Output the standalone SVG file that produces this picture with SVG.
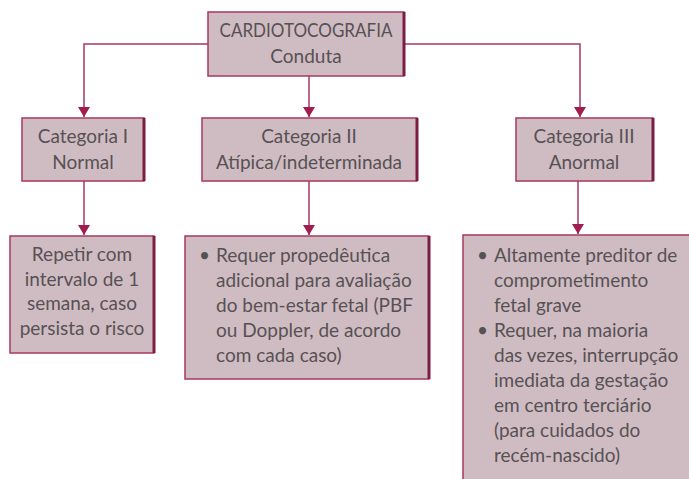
<svg xmlns="http://www.w3.org/2000/svg" width="689" height="479" viewBox="0 0 689 479">
<style>
.box{fill:#cfbcc2;stroke:#a8385f;stroke-width:1.5}
.sh{stroke:#7d1c42;stroke-width:3;fill:none}
.t{font-family:Lato,"Open Sans",sans-serif;font-size:19px;fill:#575154}
.c{text-anchor:middle}
.ln{stroke:#a8385f;stroke-width:1.5;fill:none}
</style>
<rect width="689" height="479" fill="#fff"/>
<g id="connectors">
<path class="ln" d="M208,44 H84 V117"/>
<path class="ln" d="M405,44 H580 V117"/>
<path class="ln" d="M309,76 V117"/>
<path class="ln" d="M84,181 V235"/>
<path class="ln" d="M309,181 V235"/>
<path class="ln" d="M578,181 V234"/>
<path d="M78,107 H90 L84,117 Z M574,107 H586 L580,117 Z M303,107 H315 L309,117 Z M78,225 H90 L84,235 Z M303,225 H315 L309,235 Z M572,224 H584 L578,234 Z" fill="#a11d4f"/>
</g>
<g id="root">
<rect class="box" x="208" y="12" width="196" height="64"/>
<line class="sh" x1="404" y1="12" x2="404" y2="76"/>
<text class="t c" x="306" y="37" textLength="173" lengthAdjust="spacingAndGlyphs">CARDIOTOCOGRAFIA</text>
<text class="t c" x="306" y="63">Conduta</text>
</g>
<g id="cat1">
<rect class="box" x="22" y="118" width="122" height="63"/>
<line class="sh" x1="144" y1="118" x2="144" y2="181"/>
<text class="t c" x="83" y="143">Categoria I</text>
<text class="t c" x="83" y="169">Normal</text>
</g>
<g id="cat2">
<rect class="box" x="202" y="118" width="215" height="63"/>
<line class="sh" x1="417" y1="118" x2="417" y2="181"/>
<text class="t c" x="309" y="143">Categoria II</text>
<text class="t c" x="309" y="169">Atípica/indeterminada</text>
</g>
<g id="cat3">
<rect class="box" x="516" y="118" width="137" height="63"/>
<line class="sh" x1="653" y1="118" x2="653" y2="181"/>
<text class="t c" x="584" y="143">Categoria III</text>
<text class="t c" x="584" y="169">Anormal</text>
</g>
<g id="box1">
<rect class="box" x="10" y="236" width="144" height="117"/>
<line class="sh" x1="154" y1="236" x2="154" y2="353"/>
<text class="t c" x="82" y="261">Repetir com</text>
<text class="t c" x="82" y="285.5">intervalo de 1</text>
<text class="t c" x="82" y="310">semana, caso</text>
<text class="t c" x="82" y="334.5">persista o risco</text>
</g>
<g id="box2">
<rect class="box" x="185" y="236" width="244" height="143"/>
<line class="sh" x1="429" y1="236" x2="429" y2="379"/>
<text class="t" x="199" y="262">•</text>
<text class="t" x="216" y="262">Requer propedêutica</text>
<text class="t" x="216" y="287">adicional para avaliação</text>
<text class="t" x="216" y="312">do bem-estar fetal (PBF</text>
<text class="t" x="216" y="337">ou Doppler, de acordo</text>
<text class="t" x="216" y="362">com cada caso)</text>
</g>
<g id="box3">
<rect class="box" x="463" y="235" width="240" height="260"/>
<text class="t" x="477" y="262">•</text>
<text class="t" x="494" y="262">Altamente preditor de</text>
<text class="t" x="494" y="287">comprometimento</text>
<text class="t" x="494" y="312">fetal grave</text>
<text class="t" x="477" y="337">•</text>
<text class="t" x="494" y="337">Requer, na maioria</text>
<text class="t" x="494" y="362">das vezes, interrupção</text>
<text class="t" x="494" y="387">imediata da gestação</text>
<text class="t" x="494" y="412">em centro terciário</text>
<text class="t" x="494" y="437">(para cuidados do</text>
<text class="t" x="494" y="462">recém-nascido)</text>
</g>
</svg>
